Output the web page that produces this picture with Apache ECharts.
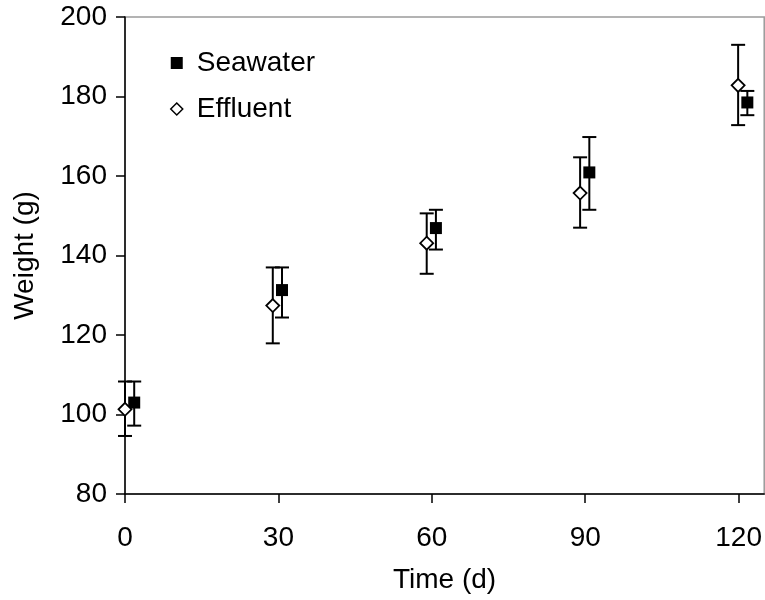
<!DOCTYPE html>
<html>
<head>
<meta charset="utf-8">
<script src="https://cdn.jsdelivr.net/npm/echarts@6/dist/echarts.min.js"></script>
<style>html,body{margin:0;padding:0;background:#fff}#c{width:765px;height:600px}</style>
</head>
<body>
<div id="c"></div>
<script>
const seawaterX = [1.8, 30.7, 60.8, 90.8, 121.7];
const seawaterY = [103, 131.3, 146.9, 160.9, 178.5];
const seawaterHi = [108.3, 137, 151.5, 169.8, 181.4];
const seawaterLo = [97.2, 124.4, 141.5, 151.5, 175.3];

const effluentX = [0, 28.9, 59, 89, 119.9];
const effluentY = [101.3, 127.4, 143.1, 155.7, 182.8];
const effluentHi = [108.3, 137, 150.6, 164.7, 193];
const effluentLo = [94.6, 117.9, 135.4, 147, 172.8];

const xTicks = [0, 30, 60, 90, 120];
const yTicks = [80, 100, 120, 140, 160, 180, 200];

const FONT = 'Liberation Sans, Arial, sans-serif';

function errData(xs, lo, hi) { return xs.map((x, i) => [x, lo[i], hi[i]]); }
function ptData(xs, ys) { return xs.map((x, i) => [x, ys[i]]); }

function errRender(params, api) {
  const x = api.value(0);
  const lo = api.coord([x, api.value(1)]);
  const hi = api.coord([x, api.value(2)]);
  const hw = 7;
  const st = { stroke: '#000', lineWidth: 2 };
  return {
    type: 'group',
    children: [
      { type: 'line', shape: { x1: lo[0], y1: lo[1], x2: hi[0], y2: hi[1] }, style: st },
      { type: 'line', shape: { x1: lo[0] - hw, y1: lo[1], x2: lo[0] + hw, y2: lo[1] }, style: st },
      { type: 'line', shape: { x1: hi[0] - hw, y1: hi[1], x2: hi[0] + hw, y2: hi[1] }, style: st }
    ]
  };
}

const chart = echarts.init(document.getElementById('c'), null, { renderer: 'canvas' });
chart.setOption({
  animation: false,
  backgroundColor: '#fff',
  textStyle: { fontFamily: FONT },
  grid: {
    left: 125, top: 17, width: 640, height: 477,
    show: true, borderColor: '#9a9a9a', borderWidth: 1.5, backgroundColor: 'transparent'
  },
  legend: {
    orient: 'vertical',
    left: 165, top: 44,
    itemWidth: 12, itemHeight: 12,
    itemGap: 18,
    textStyle: { fontSize: 28, color: '#000', fontFamily: FONT, padding: [0, 0, 0, 9] },
    data: [
      { name: 'Seawater', icon: 'rect' },
      { name: 'Effluent', icon: 'diamond', itemStyle: { color: '#fff', borderColor: '#000', borderWidth: 1.5 } }
    ]
  },
  xAxis: {
    type: 'value', min: 0, max: 125,
    name: 'Time (d)', nameLocation: 'middle', nameGap: 72,
    nameTextStyle: { fontSize: 28, color: '#000', fontFamily: FONT },
    axisLine: { show: true, onZero: false, lineStyle: { color: '#000', width: 1.5 } },
    axisTick: { show: true, inside: false, length: 9, lineStyle: { color: '#000', width: 1.5 }, customValues: xTicks },
    axisLabel: { fontSize: 28, color: '#000', margin: 30, fontFamily: FONT, customValues: xTicks },
    splitLine: { show: false }
  },
  yAxis: {
    type: 'value', min: 80, max: 200, interval: 20,
    name: 'Weight (g)', nameLocation: 'middle', nameGap: 86,
    nameTextStyle: { fontSize: 28, color: '#000', fontFamily: FONT },
    axisLine: { show: true, onZero: false, lineStyle: { color: '#000', width: 1.5 } },
    axisTick: { show: true, inside: false, length: 9, lineStyle: { color: '#000', width: 1.5 }, customValues: yTicks },
    axisLabel: { fontSize: 28, color: '#000', margin: 18, fontFamily: FONT, customValues: yTicks },
    splitLine: { show: false }
  },
  series: [
    {
      name: 'SeawaterErr', type: 'custom', renderItem: errRender, clip: false, z: 2,
      data: errData(seawaterX, seawaterLo, seawaterHi), silent: true
    },
    {
      name: 'EffluentErr', type: 'custom', renderItem: errRender, clip: false, z: 2,
      data: errData(effluentX, effluentLo, effluentHi), silent: true
    },
    {
      name: 'Seawater', type: 'scatter', symbol: 'rect', symbolSize: 12, clip: false, z: 3,
      itemStyle: { color: '#000', opacity: 1 },
      data: ptData(seawaterX, seawaterY)
    },
    {
      name: 'Effluent', type: 'scatter', symbol: 'diamond', symbolSize: 13, clip: false, z: 4,
      itemStyle: { color: '#fff', borderColor: '#000', borderWidth: 1.8, opacity: 1 },
      data: ptData(effluentX, effluentY)
    }
  ]
});
</script>
</body>
</html>
